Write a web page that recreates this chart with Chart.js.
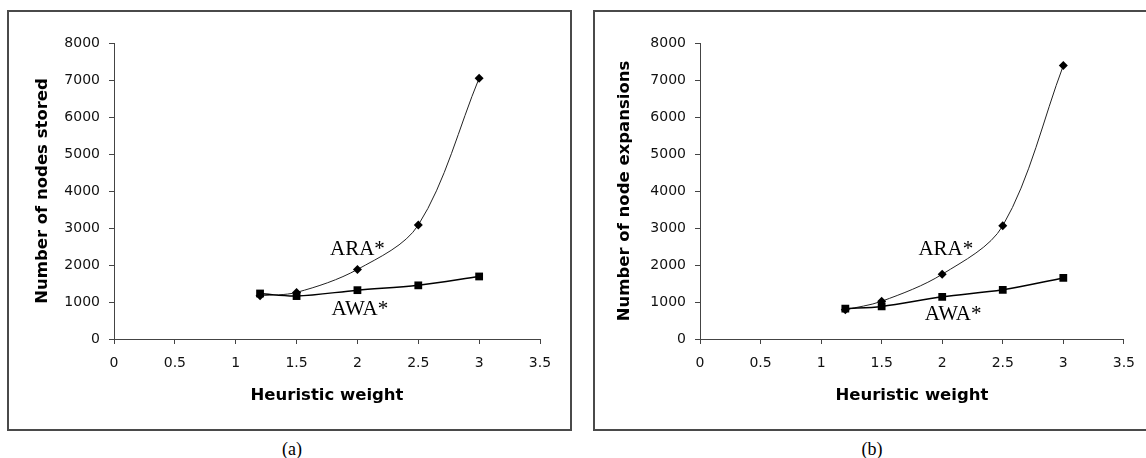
<!DOCTYPE html>
<html><head><meta charset="utf-8">
<script src="https://cdn.jsdelivr.net/npm/chart.js@4.4.0/dist/chart.umd.min.js"></script>
<style>
html,body{margin:0;padding:0;background:#fff;}
body{width:1146px;height:458px;position:relative;overflow:hidden;}
.box{position:absolute;border:2px solid #4a4a4a;box-sizing:border-box;}
.cv{position:absolute;}
.cap{position:absolute;font-family:'Liberation Serif','Times New Roman',serif;font-size:18px;color:#000;transform:translate(-50%,-50%);white-space:nowrap;}
</style></head><body>
<div class="box" style="left:7px;top:10px;width:565px;height:421px"></div>
<div class="box" style="left:593px;top:10px;width:600px;height:421px"></div>
<canvas id="ca" class="cv" width="561" height="417" style="left:9px;top:12px"></canvas>
<canvas id="cb" class="cv" width="551" height="417" style="left:595px;top:12px"></canvas>
<div class="cap" style="left:292px;top:449px">(a)</div>
<div class="cap" style="left:872px;top:449px">(b)</div>
<script>
const weights = [1.2, 1.5, 2, 2.5, 3];
const araStored = [1170, 1260, 1880, 3080, 7050];
const awaStored = [1230, 1160, 1320, 1450, 1690];
const araExpansions = [790, 1020, 1750, 3060, 7390];
const awaExpansions = [820, 880, 1140, 1330, 1650];
const xTickValues = [0, 0.5, 1, 1.5, 2, 2.5, 3, 3.5];
const xTickLabels = ['0', '0.5', '1', '1.5', '2', '2.5', '3', '3.5'];
const yTickValues = [0, 1000, 2000, 3000, 4000, 5000, 6000, 7000, 8000];
const yTickLabels = ['0', '1000', '2000', '3000', '4000', '5000', '6000', '7000', '8000'];
const seriesNames = ['ARA*', 'AWA*'];
const xTitle = 'Heuristic weight';
const yTitleA = 'Number of nodes stored';
const yTitleB = 'Number of node expansions';

Chart.defaults.font.family = "'DejaVu Sans', 'Liberation Sans', Arial, sans-serif";
const axisColor = '#444';

function pts(xs, ys) { return xs.map((x, i) => ({x: x, y: ys[i]})); }

function makeChart(id, ara, awa, yTitle, padRight, yTitlePad, anchors) {
  const labelPlugin = {
    id: 'seriesLabels',
    afterDatasetsDraw(chart) {
      const ctx = chart.ctx, xs = chart.scales.x, ys = chart.scales.y;
      ctx.save();
      ctx.font = "21px 'Liberation Serif', 'Times New Roman', serif";
      ctx.fillStyle = '#000';
      ctx.textAlign = 'center';
      ctx.textBaseline = 'middle';
      seriesNames.forEach((name, i) => {
        ctx.fillText(name, xs.getPixelForValue(anchors[i][0]), ys.getPixelForValue(anchors[i][1]));
      });
      ctx.restore();
    }
  };
  return new Chart(document.getElementById(id), {
    type: 'scatter',
    data: {
      datasets: [
        { label: seriesNames[1], data: pts(weights, awa), showLine: true,
          borderColor: '#000', backgroundColor: '#000', borderWidth: 1.5,
          pointStyle: 'rect', pointRadius: 5.5, pointBorderWidth: 0, tension: 0.33 },
        { label: seriesNames[0], data: pts(weights, ara), showLine: true,
          borderColor: '#222', backgroundColor: '#000', borderWidth: 1,
          pointStyle: 'rectRot', pointRadius: 4.5, pointBorderWidth: 0, tension: 0.33 }
      ]
    },
    options: {
      responsive: false, animation: false, devicePixelRatio: 1,
      layout: { padding: { left: 0, top: 31, right: padRight, bottom: 0 } },
      plugins: { legend: { display: false }, tooltip: { enabled: false } },
      scales: {
        x: {
          type: 'linear', min: 0, max: 3.5,
          afterBuildTicks: s => { s.ticks = xTickValues.map(v => ({ value: v })); },
          afterFit: s => { s.height = 90; },
          ticks: { callback: (v, i) => xTickLabels[i], font: { size: 14 }, color: '#111',
                   padding: 11, maxRotation: 0, autoSkip: false },
          grid: { drawOnChartArea: false, drawTicks: true, tickLength: 5, color: axisColor },
          border: { color: axisColor, width: 1 },
          title: { display: true, text: xTitle, font: { size: 16.5, weight: 'bold' }, color: '#000',
                   padding: { top: 0, bottom: 23 } }
        },
        y: {
          type: 'linear', min: 0, max: 8000,
          afterBuildTicks: s => { s.ticks = yTickValues.map(v => ({ value: v })); },
          afterFit: s => { s.width = 105; },
          ticks: { callback: (v, i) => yTickLabels[i], font: { size: 14 }, color: '#111',
                   padding: 9, autoSkip: false },
          grid: { drawOnChartArea: false, drawTicks: true, tickLength: 5, color: axisColor },
          border: { color: axisColor, width: 1 },
          title: { display: true, text: yTitle, font: { size: 16.5, weight: 'bold' }, color: '#000',
                   padding: { top: yTitlePad, bottom: 0 } }
        }
      }
    },
    plugins: [labelPlugin]
  });
}

makeChart('ca', araStored, awaStored, yTitleA, 30, 24, [[2.0, 2420], [2.02, 800]]);
makeChart('cb', araExpansions, awaExpansions, yTitleB, 18, 20, [[2.03, 2410], [2.09, 650]]);
</script>
</body></html>
